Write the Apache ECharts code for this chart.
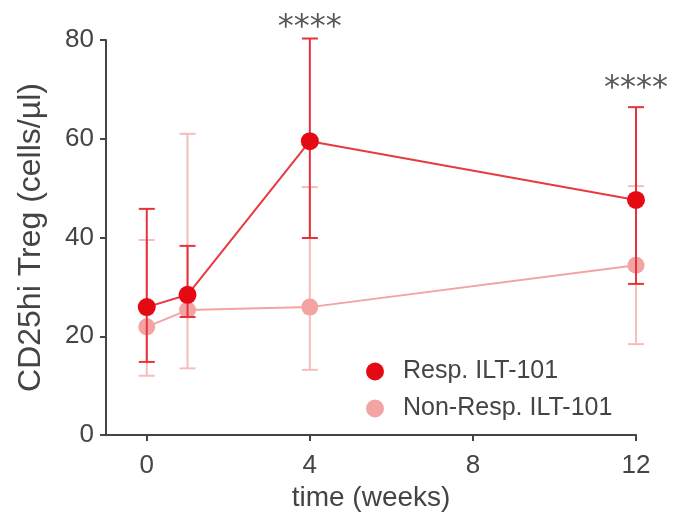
<!DOCTYPE html>
<html>
<head>
<meta charset="utf-8">
<script src="https://cdn.jsdelivr.net/npm/echarts@6/dist/echarts.min.js"></script>
<style>
  html, body { margin: 0; padding: 0; background: #fff; }
  #main { width: 677px; height: 517px; }
</style>
</head>
<body>
<div id="main"></div>
<script>
// time points (weeks)
var weeks = [0, 1, 4, 12];
// Resp. ILT-101 : mean, lower and upper error bar ends
var respMean = [25.9, 28.4, 59.5, 47.6];
var respLow = [14.8, 23.9, 39.9, 30.6];
var respHigh = [45.8, 38.3, 80.3, 66.4];
// Non-Resp. ILT-101
var nonMean = [21.9, 25.3, 25.9, 34.4];
var nonLow = [12.0, 13.5, 13.2, 18.4];
var nonHigh = [39.5, 61.0, 50.2, 50.4];
// significance marks
var sigWeeks = [4, 12];
var sigY = [82.4, 70.1];
var sigText = ['****', '****'];
var xTicks = [0, 4, 8, 12];

var RED = '#e50914';
var PINK = '#f4a3a3';
var FONT = 'Liberation Sans';

function pairs(xs, ys) {
    var out = [];
    for (var i = 0; i < xs.length; i++) out.push([xs[i], ys[i]]);
    return out;
}
function bars(xs, lo, hi) {
    var out = [];
    for (var i = 0; i < xs.length; i++) out.push([xs[i], lo[i], hi[i]]);
    return out;
}

// error bar with caps
function errorBar(color, cap) {
    return function (params, api) {
        var top = api.coord([api.value(0), api.value(2)]);
        var bot = api.coord([api.value(0), api.value(1)]);
        var st = { stroke: color, lineWidth: 2 };
        return {
            type: 'group',
            children: [
                { type: 'line', shape: { x1: top[0], y1: top[1], x2: bot[0], y2: bot[1] }, style: st },
                { type: 'line', shape: { x1: top[0] - cap, y1: top[1], x2: top[0] + cap, y2: top[1] }, style: st },
                { type: 'line', shape: { x1: bot[0] - cap, y1: bot[1], x2: bot[0] + cap, y2: bot[1] }, style: st }
            ]
        };
    };
}

var myChart = echarts.init(document.getElementById('main'));

var option = {
    backgroundColor: '#fff',
    animation: false,
    textStyle: { fontFamily: FONT },
    grid: { left: 106, right: 41, top: 40, bottom: 82, outerBoundsMode: 'none', containLabel: false },
    legend: {
        orient: 'vertical',
        left: 361,
        top: 354,
        icon: 'circle',
        itemWidth: 18,
        itemHeight: 18,
        itemGap: 12,
        textStyle: { fontSize: 25, color: '#444', fontFamily: FONT, padding: [0, 0, 0, 14] },
        data: ['Resp. ILT-101', 'Non-Resp. ILT-101']
    },
    xAxis: {
        type: 'value',
        min: -1,
        max: 12,
        name: 'time (weeks)',
        nameLocation: 'middle',
        nameGap: 48,
        nameTextStyle: { fontSize: 28, color: '#444' },
        axisLine: { show: true, onZero: false, lineStyle: { color: '#444', width: 2 } },
        axisTick: { show: true, customValues: xTicks, length: 6, lineStyle: { color: '#444', width: 2 } },
        axisLabel: { customValues: xTicks, fontSize: 26, color: '#444', margin: 18 },
        splitLine: { show: false }
    },
    yAxis: {
        type: 'value',
        min: 0,
        max: 80,
        interval: 20,
        name: 'CD25hi Treg (cells/µl)',
        nameLocation: 'middle',
        nameGap: 59,
        nameTextStyle: { fontSize: 32, color: '#444' },
        axisLine: { show: true, onZero: false, lineStyle: { color: '#444', width: 2 } },
        axisTick: { show: true, length: 6, lineStyle: { color: '#444', width: 2 } },
        axisLabel: { fontSize: 26, color: '#444', margin: 12 },
        splitLine: { show: false }
    },
    series: [
        {
            name: 'nonErr',
            type: 'custom',
            renderItem: errorBar('#f7bcbc', 8),
            data: bars(weeks, nonLow, nonHigh),
            z: 1
        },
        {
            name: 'Non-Resp. ILT-101',
            type: 'line',
            data: pairs(weeks, nonMean),
            symbol: 'circle',
            symbolSize: 17,
            lineStyle: { color: PINK, width: 2 },
            itemStyle: { color: PINK },
            z: 2
        },
        {
            name: 'respErr',
            type: 'custom',
            renderItem: errorBar('#e8323a', 8),
            data: bars(weeks, respLow, respHigh),
            z: 3
        },
        {
            name: 'Resp. ILT-101',
            type: 'line',
            data: pairs(weeks, respMean),
            symbol: 'circle',
            symbolSize: 18,
            lineStyle: { color: '#e83a40', width: 2 },
            itemStyle: { color: RED },
            z: 4
        },
        {
            name: 'sig',
            type: 'scatter',
            clip: false,
            symbolSize: 1,
            itemStyle: { color: 'rgba(0,0,0,0)' },
            silent: true,
            data: pairs(sigWeeks, sigY),
            label: {
                show: true,
                position: 'inside',
                formatter: function (p) { return sigText[p.dataIndex]; },
                fontSize: 32,
                fontFamily: 'DejaVu Sans',
                color: '#2e2e2e'
            },
            z: 5
        }
    ]
};

myChart.setOption(option);
</script>
</body>
</html>
